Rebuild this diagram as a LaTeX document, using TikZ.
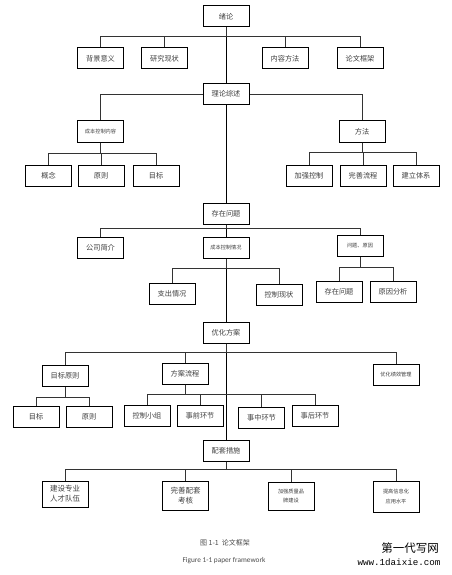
\documentclass[tikz,border=0pt]{standalone}
\usepackage{fontspec}
\setmainfont{Carlito}
\newfontfamily\cjk{Noto Sans CJK SC}
\newfontfamily\wmono{Liberation Mono}
\begin{document}
\begin{tikzpicture}[x=1pt,y=-1pt,
  box/.style={draw=black, line width=1pt, minimum width=46pt, minimum height=21pt,
    inner sep=1pt, font=\cjk\fontsize{7.2}{8}\selectfont, text=black!75, align=center},
  smalltxt/.style={font=\cjk\fontsize{5.2}{6}\selectfont},
  tallbox/.style={minimum height=28pt, font=\cjk\fontsize{7.5}{10}\selectfont},
  conn/.style={draw=black!80, line width=0.75pt}]
\useasboundingbox (0,0) rectangle (451,575);
\fill[white] (0,0) rectangle (451,575);

% level 1
\node[box] (xl) at (226,16.5) {绪论};
\node[box] (bj) at (100.5,58.5) {背景意义};
\node[box] (yj) at (164.5,58.5) {研究现状};
\node[box] (nr) at (285,58.5) {内容方法};
\node[box] (lw) at (360,58.5) {论文框架};

% level 2
\node[box] (ll) at (226,94) {理论综述};
\node[box,smalltxt] (cbnr) at (100.5,131.5) {成本控制内容};
\node[box] (ff) at (362,131.5) {方法};
\node[box] (gn) at (48.5,176) {概念};
\node[box] (yz) at (101,176) {原则};
\node[box] (mb) at (156,176) {目标};
\node[box] (jq) at (309,176) {加强控制};
\node[box] (ws) at (363,176) {完善流程};
\node[box] (jl) at (416,176) {建立体系};

% level 3
\node[box] (cz) at (226,213.5) {存在问题};
\node[box] (gs) at (100.5,247.5) {公司简介};
\node[box,smalltxt] (cbqk) at (226,248) {成本控制情况};
\node[box,smalltxt] (wtyy) at (360,246) {问题、原因};
\node[box] (zc) at (172,293.5) {支出情况};
\node[box] (kz) at (279,294.5) {控制现状};
\node[box] (cz2) at (339,292) {存在问题};
\node[box] (yy) at (393,292) {原因分析};

% level 4
\node[box] (yh) at (226,332.5) {优化方案};
\node[box] (mbyz) at (65,376) {目标原则};
\node[box] (falc) at (185,373.5) {方案流程};
\node[box,smalltxt] (yhjx) at (396,375) {优化绩效管理};
\node[box] (mb2) at (36,417) {目标};
\node[box] (yz2) at (89,417) {原则};
\node[box] (kzxz) at (147,416) {控制小组};
\node[box] (sq) at (200,416) {事前环节};
\node[box] (sz) at (261.5,417.5) {事中环节};
\node[box] (sh) at (315,415.5) {事后环节};

% level 5
\node[box] (pt) at (226,450.5) {配套措施};
\node[box,tallbox,minimum height=26pt] (js) at (65,494) {建设专业\\人才队伍};
\node[box,tallbox,minimum height=29pt] (wspt) at (185.5,495.5) {完善配套\\考核};
\node[box,font=\cjk\fontsize{5.2}{9.5}\selectfont,minimum height=28pt] (jqzl) at (291,496) {加强质量品\\牌建设};
\node[box,font=\cjk\fontsize{5.2}{10}\selectfont,minimum height=31pt] (tgxx) at (396,496.5) {提高信息化\\应用水平};

% spine
\draw[conn,draw=black] (xl.south) -- (ll.north);
\draw[conn,draw=black] (ll.south) -- (cz.north);
\draw[conn,draw=black] (cz.south) -- (cbqk.north);
\draw[conn,draw=black] (cbqk.south) -- (yh.north);
\draw[conn,draw=black] (yh.south) -- (pt.north);

% trees
\foreach \c in {bj,yj,nr,lw}
  \draw[conn] (xl.south) -- (xl.south |- 0,36) -| (\c.north);
\draw[conn] (ll.west) -| (cbnr.north);
\draw[conn] (ll.east) -| (ff.north);
\foreach \c in {gn,yz,mb}
  \draw[conn] (cbnr.south) -- (cbnr.south |- 0,153) -| (\c.north);
\foreach \c in {jq,ws,jl}
  \draw[conn] (ff.south) -- (ff.south |- 0,152) -| (\c.north);
\foreach \c in {gs,wtyy}
  \draw[conn] (cz.south) -- (cz.south |- 0,228) -| (\c.north);
\foreach \c in {zc,kz}
  \draw[conn] (cbqk.south) -- (cbqk.south |- 0,268) -| (\c.north);
\foreach \c in {cz2,yy}
  \draw[conn] (wtyy.south) -- (wtyy.south |- 0,267) -| (\c.north);
\foreach \c in {mbyz,falc,yhjx}
  \draw[conn] (yh.south) -- (yh.south |- 0,352) -| (\c.north);
\foreach \c in {mb2,yz2}
  \draw[conn] (mbyz.south) -- (mbyz.south |- 0,397) -| (\c.north);
\foreach \c in {kzxz,sq,sz,sh}
  \draw[conn] (falc.south) -- (falc.south |- 0,394) -| (\c.north);
\foreach \c in {js,wspt,jqzl,tgxx}
  \draw[conn] (pt.south) -- (pt.south |- 0,469) -| (\c.north);

% captions
\node[font=\cjk\fontsize{7}{8}\selectfont, text=black!70] (cap1) at (225,543) {图 1-1\ \ 论文框架};
\node[font=\fontsize{7.3}{8}\selectfont, text=black!70] (cap2) at (224,561) {Figure 1-1 paper framework};
\node[font=\cjk\fontsize{11.5}{12}\selectfont, text=black] (wm1) at (410,548) {第一代写网};
\node[font=\wmono\fontsize{9.2}{10}\selectfont, text=black, inner sep=0pt] (wm2) at (399,562) {www.1daixie.com};
\end{tikzpicture}
\end{document}
